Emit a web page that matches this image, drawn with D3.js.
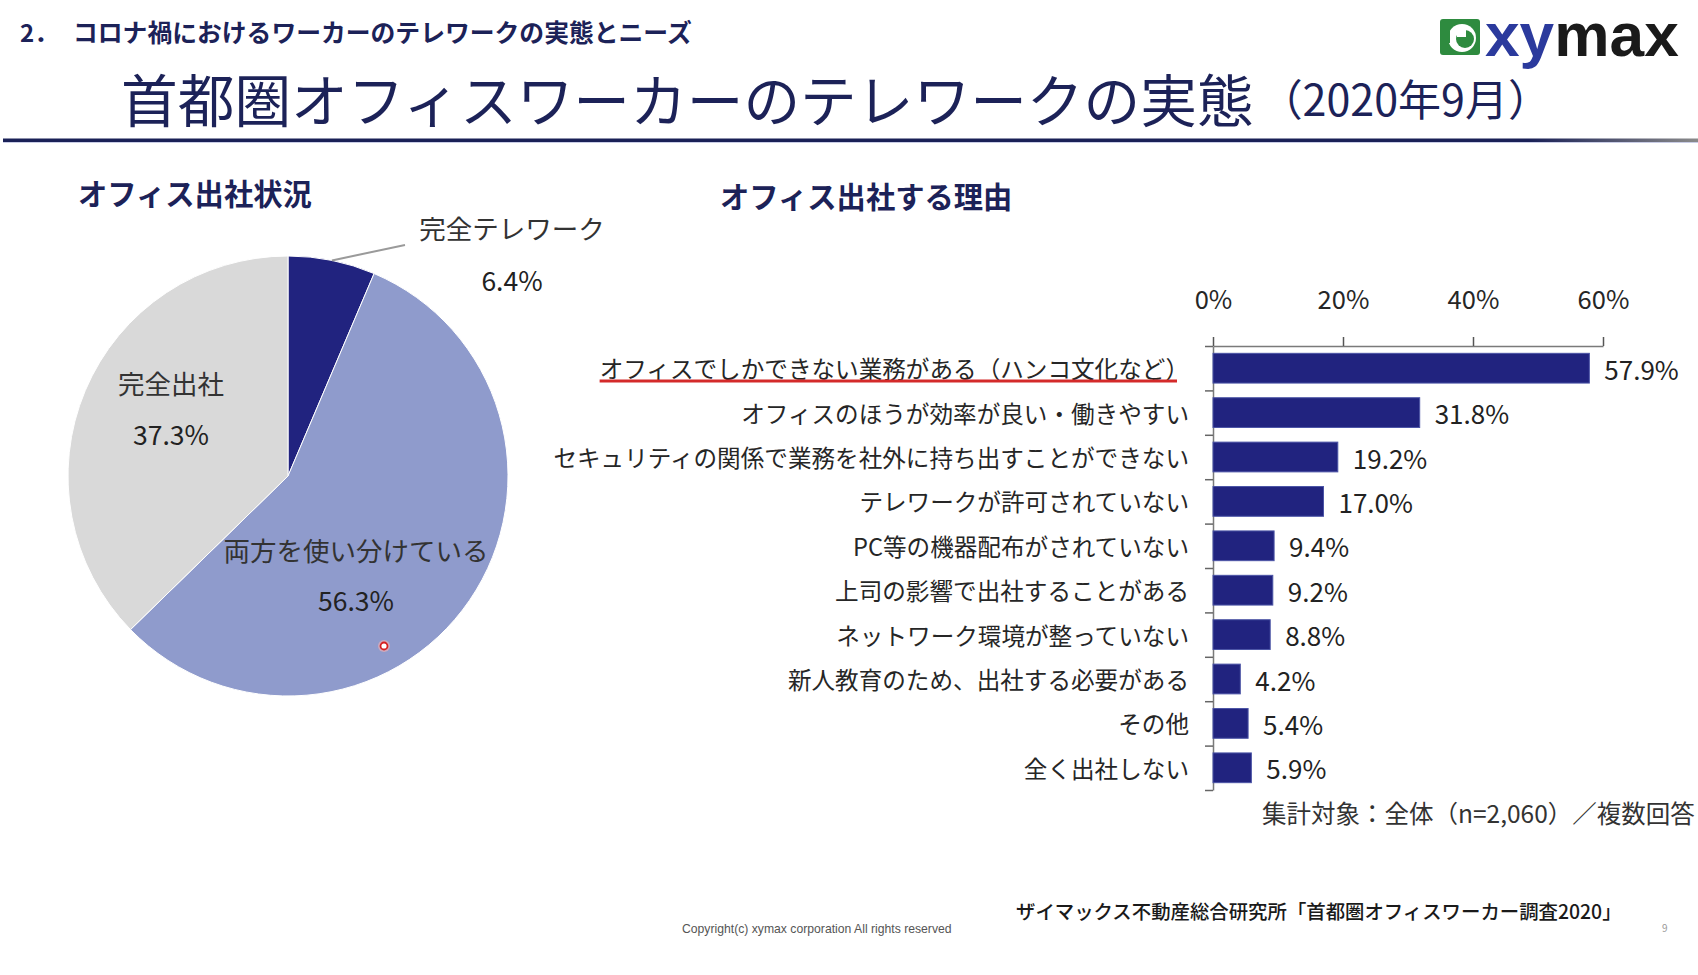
<!DOCTYPE html>
<html>
<head>
<meta charset="utf-8">
<script src="https://cdn.jsdelivr.net/npm/d3@7/dist/d3.min.js"></script>
<style>
  html, body { margin: 0; padding: 0; background: #ffffff; }
  svg { display: block; }
  text { font-family: "Noto Sans CJK JP", "Noto Sans", sans-serif; }
</style>
</head>
<body>
<svg id="chart" width="1698" height="975"></svg>
<script>
// ---------------- data ----------------
const pieLabels = ["完全テレワーク", "両方を使い分けている", "完全出社"];
const pieValues = [6.4, 56.3, 37.3];

const barCategories = [
  "オフィスでしかできない業務がある（ハンコ文化など）",
  "オフィスのほうが効率が良い・働きやすい",
  "セキュリティの関係で業務を社外に持ち出すことができない",
  "テレワークが許可されていない",
  "PC等の機器配布がされていない",
  "上司の影響で出社することがある",
  "ネットワーク環境が整っていない",
  "新人教育のため、出社する必要がある",
  "その他",
  "全く出社しない"
];
const barValues = [57.9, 31.8, 19.2, 17.0, 9.4, 9.2, 8.8, 4.2, 5.4, 5.9];
const axisTicks = [0, 20, 40, 60];

// ---------------- styles ----------------
const NAVY = "#1c2258";
const BAR = "#21237f";
const LAV = "#8f9bcc";
const GRAY = "#d9d9d9";
const TXT = "#262626";

const svg = d3.select("#chart");
svg.append("rect").attr("width", 1698).attr("height", 975).attr("fill", "#fff");

// ---------------- header ----------------
svg.append("text").attr("x", 20).attr("y", 31).attr("dominant-baseline", "central")
  .attr("font-size", 24).attr("font-weight", 700).attr("fill", NAVY).text("2．");
svg.append("text").attr("x", 73).attr("y", 31).attr("dominant-baseline", "central")
  .attr("font-size", 24.8).attr("font-weight", 700).attr("fill", NAVY)
  .text("コロナ禍におけるワーカーのテレワークの実態とニーズ");

const title = svg.append("text").attr("x", 121).attr("y", 97).attr("dominant-baseline", "central")
  .attr("fill", NAVY);
title.append("tspan").attr("font-size", 56.7).text("首都圏オフィスワーカーのテレワークの実態");
title.append("tspan").attr("font-size", 43).attr("dx", 6).text("（2020年9月）");

// rule with gradient fade at the right
const defs = svg.append("defs");
const grad = defs.append("linearGradient").attr("id", "rule").attr("x1", "0").attr("x2", "1");
grad.append("stop").attr("offset", "0").attr("stop-color", "#1a2157");
grad.append("stop").attr("offset", "0.9").attr("stop-color", "#1a2157");
grad.append("stop").attr("offset", "1").attr("stop-color", "#8a8a8a");
svg.append("rect").attr("x", 3).attr("y", 138.5).attr("width", 1695).attr("height", 3.5).attr("fill", "url(#rule)");
svg.append("rect").attr("x", 3).attr("y", 142).attr("width", 1695).attr("height", 1).attr("fill", "#c9cde6");

// logo
const logo = svg.append("g");
logo.append("rect").attr("x", 1440).attr("y", 19).attr("width", 40).attr("height", 36).attr("rx", 3).attr("fill", "#2e8b3f");
logo.append("circle").attr("cx", 1462).attr("cy", 38).attr("r", 14).attr("fill", "#fff");
logo.append("circle").attr("cx", 1465).attr("cy", 39).attr("r", 9).attr("fill", "#2e8b3f");
logo.append("rect").attr("x", 1457).attr("y", 28).attr("width", 9).attr("height", 9).attr("fill", "#fff");
logo.append("rect").attr("x", 1440).attr("y", 31).attr("width", 10).attr("height", 12).attr("fill", "#2e8b3f");
const lt = logo.append("text").attr("transform", "translate(1485,56) scale(1.02,1)")
  .attr("font-weight", 700).attr("font-size", 61)
  .attr("style", "font-family:'Liberation Sans', Arial, sans-serif");
lt.append("tspan").attr("fill", "#2b3a9d").text("xy");
lt.append("tspan").attr("fill", "#1a1a1a").text("max");

// ---------------- section titles ----------------
svg.append("text").attr("x", 78).attr("y", 192).attr("dominant-baseline", "central")
  .attr("font-size", 29.3).attr("font-weight", 700).attr("fill", NAVY).text("オフィス出社状況");
svg.append("text").attr("x", 720).attr("y", 195).attr("dominant-baseline", "central")
  .attr("font-size", 29.3).attr("font-weight", 700).attr("fill", NAVY).text("オフィス出社する理由");

// ---------------- pie ----------------
const cx = 288, cy = 476, R = 220;
const pieData = pieLabels.map((l, i) => ({ label: l, value: pieValues[i] }));
const pie = d3.pie().sort(null).value(d => d.value);
const arcs = pie(pieData);
const arc = d3.arc().innerRadius(0).outerRadius(R);
const colors = d3.scaleOrdinal().domain(pieLabels).range([BAR, LAV, GRAY]);

const pg = svg.append("g").attr("transform", `translate(${cx},${cy})`);
pg.selectAll("path").data(arcs).join("path")
  .attr("d", arc).attr("fill", d => colors(d.data.label))
  .attr("stroke", "#ffffff").attr("stroke-width", 1);

// label layout (offsets relative to the pie centre)
const pieLabelPos = [
  { x: 224, y: -249, v: -197, leader: true },
  { x: 68, y: 73, v: 123 },
  { x: -117, y: -94, v: -43 }
];
arcs.forEach((a, i) => {
  const p = pieLabelPos[i];
  pg.append("text").attr("x", p.x).attr("y", p.y).attr("text-anchor", "middle")
    .attr("dominant-baseline", "central").attr("font-size", 26.5).attr("fill", "#333")
    .text(a.data.label);
  pg.append("text").attr("x", p.x).attr("y", p.v).attr("text-anchor", "middle")
    .attr("dominant-baseline", "central").attr("font-size", 26.5).attr("fill", "#222")
    .text(d3.format(".1f")(a.data.value) + "%");
  if (p.leader) {
    const mid = (a.startAngle + a.endAngle) / 2;
    const px = Math.sin(mid) * R, py = -Math.cos(mid) * R;
    pg.append("line").attr("x1", px).attr("y1", py).attr("x2", 117).attr("y2", -231)
      .attr("stroke", "#9a9a9a").attr("stroke-width", 2);
  }
});
// pointer dot
pg.append("circle").attr("cx", 96).attr("cy", 170).attr("r", 6).attr("fill", "#f6b3b3").attr("opacity", 0.6);
pg.append("circle").attr("cx", 96).attr("cy", 170).attr("r", 3.5).attr("fill", "#fff").attr("stroke", "#d62020").attr("stroke-width", 1.8);

// ---------------- bar chart ----------------
const x = d3.scaleLinear().domain([0, 60]).range([1213, 1603]);
const y = d3.scaleBand().domain(barCategories).range([346, 790]).paddingInner(0.33).paddingOuter(0.165);

// top axis
const xAxis = svg.append("g").attr("transform", "translate(0,346)")
  .call(d3.axisTop(x).tickValues(axisTicks).tickFormat(d => d + "%").tickSize(9).tickSizeOuter(0).tickPadding(28));
xAxis.select(".domain").attr("stroke", "#7a7a7a").attr("stroke-width", 1.5);
xAxis.selectAll(".tick line").attr("stroke", "#555").attr("stroke-width", 1.5);
xAxis.selectAll(".tick text").attr("font-size", 25.5).attr("fill", TXT)
  .attr("font-family", "'Noto Sans CJK JP', sans-serif");

// left axis with ticks at category boundaries
const yb = d3.scaleLinear().domain([0, barCategories.length]).range([346, 790]);
const yAxis = svg.append("g").attr("transform", "translate(1213,0)")
  .call(d3.axisLeft(yb).ticks(barCategories.length).tickFormat("").tickSize(8).tickSizeOuter(0));
yAxis.select(".domain").attr("stroke", "#7a7a7a").attr("stroke-width", 1.5);
yAxis.selectAll(".tick line").attr("stroke", "#666").attr("stroke-width", 1.5);

// bars
svg.append("g").selectAll("rect").data(barValues).join("rect")
  .attr("x", x(0)).attr("y", (d, i) => y(barCategories[i]))
  .attr("width", d => x(d) - x(0)).attr("height", y.bandwidth())
  .attr("fill", BAR).attr("stroke", "#4b54a6").attr("stroke-width", 1);

// value labels
svg.append("g").selectAll("text").data(barValues).join("text")
  .attr("x", d => x(d) + 15).attr("y", (d, i) => y(barCategories[i]) + y.bandwidth() / 2)
  .attr("dominant-baseline", "central").attr("font-size", 26).attr("fill", "#222")
  .text(d => d3.format(".1f")(d) + "%");

// category labels
const catG = svg.append("g");
catG.selectAll("text").data(barCategories).join("text")
  .attr("x", 1189).attr("y", d => y(d) + y.bandwidth() / 2)
  .attr("text-anchor", "end").attr("dominant-baseline", "central")
  .attr("font-size", 23.6).attr("fill", TXT).text(d => d);

// red underline on the first reason
const firstNode = catG.select("text").node();
const fl = firstNode.getComputedTextLength();
svg.append("line").attr("x1", 1189 - fl).attr("x2", 1189 - 12)
  .attr("y1", 381).attr("y2", 381).attr("stroke", "#d42a2a").attr("stroke-width", 3);

// footnotes
svg.append("text").attr("x", 1262).attr("y", 812).attr("dominant-baseline", "central")
  .attr("font-size", 24.5).attr("fill", "#333").text("集計対象：全体（n=2,060）／複数回答");
svg.append("text").attr("x", 1016).attr("y", 910).attr("dominant-baseline", "central")
  .attr("font-size", 19.4).attr("font-weight", 500).attr("fill", "#1a1a1a")
  .text("ザイマックス不動産総合研究所「首都圏オフィスワーカー調査2020」");
svg.append("text").attr("x", 682).attr("y", 929).attr("dominant-baseline", "central")
  .attr("font-size", 12.2).attr("fill", "#555")
  .attr("style", "font-family:'Liberation Sans Narrow','Liberation Sans',sans-serif")
  .text("Copyright(c) xymax corporation All rights reserved");
svg.append("text").attr("x", 1662).attr("y", 927).attr("dominant-baseline", "central")
  .attr("font-size", 10).attr("fill", "#999").text("9");
</script>
</body>
</html>
